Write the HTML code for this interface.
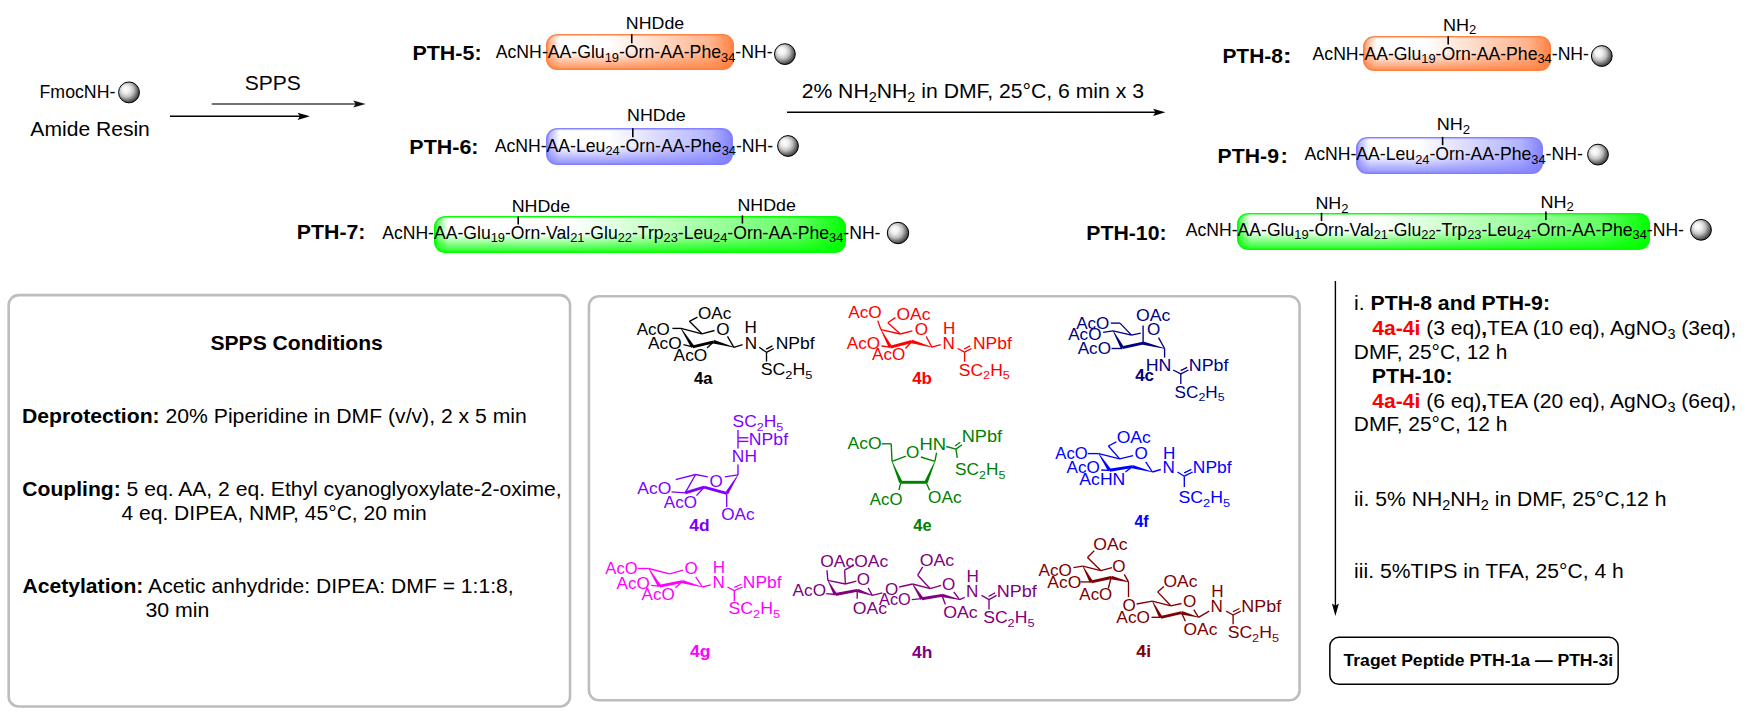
<!DOCTYPE html>
<html><head><meta charset="utf-8">
<style>
html,body{margin:0;padding:0;background:#fff;}
body{width:1758px;height:715px;position:relative;overflow:hidden;font-family:"Liberation Sans",sans-serif;}
.bx{position:absolute;border-radius:11px;}
.or{background:linear-gradient(to bottom,rgba(255,128,64,0) 0%,rgba(255,128,64,0) 48%,rgba(255,128,64,0.9) 100%),linear-gradient(to right,rgba(255,128,64,1) 0px,rgba(255,128,64,0.55) 4px,rgba(255,128,64,0) 14px,rgba(255,128,64,0) 33%,rgba(255,128,64,0.6) 88%,rgba(255,128,64,1) 100%),#fff;box-shadow:inset 0 0 1px 1.6px rgba(255,128,64,1);}
.bl{background:linear-gradient(to bottom,rgba(128,128,255,0) 0%,rgba(128,128,255,0) 48%,rgba(128,128,255,0.9) 100%),linear-gradient(to right,rgba(128,128,255,1) 0px,rgba(128,128,255,0.55) 4px,rgba(128,128,255,0) 14px,rgba(128,128,255,0) 33%,rgba(128,128,255,0.6) 88%,rgba(128,128,255,1) 100%),#fff;box-shadow:inset 0 0 1px 1.6px rgba(128,128,255,1);}
.gr{background:linear-gradient(to bottom,rgba(0,255,0,0) 0%,rgba(0,255,0,0) 48%,rgba(0,255,0,0.9) 100%),linear-gradient(to right,rgba(0,255,0,1) 0px,rgba(0,255,0,0.55) 4px,rgba(0,255,0,0) 14px,rgba(0,255,0,0) 33%,rgba(0,255,0,0.6) 88%,rgba(0,255,0,1) 100%),#fff;box-shadow:inset 0 0 1px 1.6px rgba(0,255,0,1);}
svg{position:absolute;left:0;top:0;}
text{white-space:pre;}
</style></head><body>
<div class="bx or" style="left:546px;top:34.3px;width:188px;height:36px"></div>
<div class="bx bl" style="left:546.2px;top:128.2px;width:186.5px;height:37.3px"></div>
<div class="bx gr" style="left:434.2px;top:216.4px;width:411.9px;height:36.9px"></div>
<div class="bx or" style="left:1363.3px;top:36.3px;width:187.5px;height:35.2px"></div>
<div class="bx bl" style="left:1356.2px;top:137.2px;width:186.8px;height:36.4px"></div>
<div class="bx gr" style="left:1237px;top:213.2px;width:412.5px;height:36.6px"></div>
<svg width="1758" height="715" viewBox="0 0 1758 715" font-family="Liberation Sans, sans-serif">
<defs>
<radialGradient id="ball" cx="0.42" cy="0.42" r="0.62" fx="0.33" fy="0.33">
<stop offset="0" stop-color="#ffffff"/><stop offset="0.28" stop-color="#f0f0f0"/><stop offset="0.55" stop-color="#c0c0c0"/><stop offset="0.72" stop-color="#858585"/><stop offset="0.9" stop-color="#4a4a4a"/><stop offset="1" stop-color="#2a2a2a"/>
</radialGradient>
</defs>
<text transform="translate(39.55,98.00) scale(1.0018,1)" font-size="17.7">FmocNH-</text>
<circle cx="129" cy="92.4" r="10.45" fill="url(#ball)" stroke="#000" stroke-width="1"/>
<text transform="translate(30.36,135.90) scale(1.0135,1)" font-size="20.8">Amide Resin</text>
<text transform="translate(244.74,90.40) scale(1.0017,1)" font-size="21">SPPS</text>
<g stroke="#444"><line x1="211.70" y1="104.00" x2="356.00" y2="104.00" stroke-width="1.5"/></g>
<path d="M365.6,104 L353.3,100.4 L355.6,104 L353.3,107.6 Z" fill="#111"/>
<g stroke="#000"><line x1="170.00" y1="116.30" x2="300.00" y2="116.30" stroke-width="1.4"/></g>
<path d="M309.9,116.3 L297.6,112.7 L299.9,116.3 L297.6,119.9 Z" fill="#000"/>
<text transform="translate(412.47,59.50) scale(1.0360,1)" font-size="20.7"><tspan font-weight="bold">PTH-5:</tspan></text>
<text transform="translate(495.77,58.40) scale(0.9982,1)" font-size="17.7">AcNH-AA-Glu<tspan dy="3.40" font-size="12.9">19</tspan><tspan dy="-3.40">-Orn-AA-Phe</tspan><tspan dy="3.40" font-size="12.9">34</tspan><tspan dy="-3.40">-NH-</tspan></text>
<text transform="translate(625.84,28.85) scale(1.0593,1)" font-size="16.8">NHDde</text>
<g stroke="#000"><line x1="631.75" y1="34.20" x2="631.75" y2="43.30" stroke-width="1.6"/></g>
<circle cx="784.9" cy="54.1" r="10.4" fill="url(#ball)" stroke="#000" stroke-width="1"/>
<text transform="translate(409.36,153.70) scale(1.0375,1)" font-size="20.7"><tspan font-weight="bold">PTH-6:</tspan></text>
<text transform="translate(494.67,152.00) scale(0.9976,1)" font-size="17.7">AcNH-AA-Leu<tspan dy="3.40" font-size="12.9">24</tspan><tspan dy="-3.40">-Orn-AA-Phe</tspan><tspan dy="3.40" font-size="12.9">34</tspan><tspan dy="-3.40">-NH-</tspan></text>
<text transform="translate(627.03,121.00) scale(1.0650,1)" font-size="16.8">NHDde</text>
<g stroke="#000"><line x1="632.80" y1="128.30" x2="632.80" y2="137.30" stroke-width="1.6"/></g>
<circle cx="788" cy="146" r="10.4" fill="url(#ball)" stroke="#000" stroke-width="1"/>
<text transform="translate(296.77,239.30) scale(1.0296,1)" font-size="20.7"><tspan font-weight="bold">PTH-7:</tspan></text>
<text transform="translate(382.17,238.80) scale(0.9951,1)" font-size="17.7">AcNH-AA-Glu<tspan dy="3.40" font-size="12.9">19</tspan><tspan dy="-3.40">-Orn-Val</tspan><tspan dy="3.40" font-size="12.9">21</tspan><tspan dy="-3.40">-Glu</tspan><tspan dy="3.40" font-size="12.9">22</tspan><tspan dy="-3.40">-Trp</tspan><tspan dy="3.40" font-size="12.9">23</tspan><tspan dy="-3.40">-Leu</tspan><tspan dy="3.40" font-size="12.9">24</tspan><tspan dy="-3.40">-Orn-AA-Phe</tspan><tspan dy="3.40" font-size="12.9">34</tspan><tspan dy="-3.40">-NH-</tspan></text>
<text transform="translate(511.74,212.30) scale(1.0612,1)" font-size="16.8">NHDde</text>
<g stroke="#000"><line x1="518.20" y1="216.40" x2="518.20" y2="224.50" stroke-width="1.6"/></g>
<text transform="translate(737.44,210.90) scale(1.0612,1)" font-size="16.8">NHDde</text>
<g stroke="#000"><line x1="742.40" y1="215.40" x2="742.40" y2="223.50" stroke-width="1.6"/></g>
<circle cx="898" cy="233" r="10.7" fill="url(#ball)" stroke="#000" stroke-width="1"/>
<text transform="translate(801.63,97.90) scale(1.0186,1)" font-size="20.8">2% NH<tspan dy="4.40" font-size="14.2">2</tspan><tspan dy="-4.40">NH</tspan><tspan dy="4.40" font-size="14.2">2</tspan><tspan dy="-4.40"> in DMF, 25°C, 6 min x 3</tspan></text>
<g stroke="#000"><line x1="787.00" y1="112.30" x2="1156.00" y2="112.30" stroke-width="1.4"/></g>
<path d="M1165.4,112.3 L1153.1,108.7 L1155.4,112.3 L1153.1,115.9 Z" fill="#000"/>
<text transform="translate(1222.40,63.20) scale(1.0124,1)" font-size="20.7"><tspan font-weight="bold">PTH-8</tspan></text>
<text transform="translate(1282.70,63.20) scale(1.3054,1)" font-size="20.7"><tspan font-weight="bold">:</tspan></text>
<text transform="translate(1312.57,59.80) scale(0.9968,1)" font-size="17.7">AcNH-AA-Glu<tspan dy="3.40" font-size="12.9">19</tspan><tspan dy="-3.40">-Orn-AA-Phe</tspan><tspan dy="3.40" font-size="12.9">34</tspan><tspan dy="-3.40">-NH-</tspan></text>
<text transform="translate(1442.92,30.70) scale(1.0771,1)" font-size="16.8">NH<tspan dy="3.70" font-size="12.2">2</tspan></text>
<g stroke="#000"><line x1="1448.20" y1="36.30" x2="1448.20" y2="44.60" stroke-width="1.6"/></g>
<circle cx="1601.8" cy="56" r="10.4" fill="url(#ball)" stroke="#000" stroke-width="1"/>
<text transform="translate(1217.58,163.40) scale(1.0268,1)" font-size="20.7"><tspan font-weight="bold">PTH-9</tspan></text>
<text transform="translate(1280.48,163.40) scale(1.0649,1)" font-size="20.7"><tspan font-weight="bold">:</tspan></text>
<text transform="translate(1304.47,160.30) scale(0.9961,1)" font-size="17.7">AcNH-AA-Leu<tspan dy="3.40" font-size="12.9">24</tspan><tspan dy="-3.40">-Orn-AA-Phe</tspan><tspan dy="3.40" font-size="12.9">34</tspan><tspan dy="-3.40">-NH-</tspan></text>
<text transform="translate(1436.72,129.80) scale(1.0771,1)" font-size="16.8">NH<tspan dy="3.70" font-size="12.2">2</tspan></text>
<g stroke="#000"><line x1="1442.60" y1="136.90" x2="1442.60" y2="145.20" stroke-width="1.6"/></g>
<circle cx="1598" cy="154.6" r="10.4" fill="url(#ball)" stroke="#000" stroke-width="1"/>
<text transform="translate(1086.28,240.00) scale(1.0263,1)" font-size="20.7"><tspan font-weight="bold">PTH-10:</tspan></text>
<text transform="translate(1185.77,235.50) scale(0.9947,1)" font-size="17.7">AcNH-AA-Glu<tspan dy="3.40" font-size="12.9">19</tspan><tspan dy="-3.40">-Orn-Val</tspan><tspan dy="3.40" font-size="12.9">21</tspan><tspan dy="-3.40">-Glu</tspan><tspan dy="3.40" font-size="12.9">22</tspan><tspan dy="-3.40">-Trp</tspan><tspan dy="3.40" font-size="12.9">23</tspan><tspan dy="-3.40">-Leu</tspan><tspan dy="3.40" font-size="12.9">24</tspan><tspan dy="-3.40">-Orn-AA-Phe</tspan><tspan dy="3.40" font-size="12.9">34</tspan><tspan dy="-3.40">-NH-</tspan></text>
<text transform="translate(1315.43,208.90) scale(1.0668,1)" font-size="16.8">NH<tspan dy="3.70" font-size="12.2">2</tspan></text>
<g stroke="#000"><line x1="1321.50" y1="212.80" x2="1321.50" y2="221.00" stroke-width="1.6"/></g>
<text transform="translate(1540.52,207.50) scale(1.0737,1)" font-size="16.8">NH<tspan dy="3.70" font-size="12.2">2</tspan></text>
<g stroke="#000"><line x1="1545.90" y1="211.50" x2="1545.90" y2="220.00" stroke-width="1.6"/></g>
<circle cx="1701" cy="229.8" r="10.4" fill="url(#ball)" stroke="#000" stroke-width="1"/>
<rect x="8.65" y="295.15" width="561.4" height="411.3" rx="10" fill="none" stroke="#bdbdbd" stroke-width="2.6"/>
<rect x="588.95" y="296.25" width="710.6" height="404" rx="10" fill="none" stroke="#bdbdbd" stroke-width="2.6"/>
<text transform="translate(210.39,350.40) scale(1.0202,1)" font-size="20.7"><tspan font-weight="bold">SPPS Conditions</tspan></text>
<text transform="translate(21.98,423.20) scale(1.0234,1)" font-size="20.7"><tspan font-weight="bold">Deprotection:</tspan> 20% Piperidine in DMF (v/v), 2 x 5 min</text>
<text transform="translate(22.33,496.40) scale(1.0197,1)" font-size="20.7"><tspan font-weight="bold">Coupling:</tspan> 5 eq. AA, 2 eq. Ethyl cyanoglyoxylate-2-oxime,</text>
<text transform="translate(121.42,519.70) scale(1.0180,1)" font-size="20.7">4 eq. DIPEA, NMP, 45°C, 20 min</text>
<text transform="translate(22.47,593.40) scale(1.0208,1)" font-size="20.7"><tspan font-weight="bold">Acetylation:</tspan> Acetic anhydride: DIPEA: DMF = 1:1:8,</text>
<text transform="translate(145.39,617.40) scale(1.0300,1)" font-size="20.7">30 min</text>
<text transform="translate(1354.08,310.00) scale(1.0265,1)" font-size="20.7">i. <tspan font-weight="bold">PTH-8 and PTH-9:</tspan></text>
<text transform="translate(1372.28,334.90) scale(1.0185,1)" font-size="20.7"><tspan font-weight="bold" fill="#ff0000">4a-4i</tspan> (3 eq)<tspan font-weight="bold">,</tspan>TEA (10 eq), AgNO<tspan dy="4.40" font-size="14.2">3</tspan><tspan dy="-4.40"> (3eq),</tspan></text>
<text transform="translate(1353.79,358.70) scale(1.0097,1)" font-size="20.7">DMF, 25°C, 12 h</text>
<text transform="translate(1371.87,383.00) scale(1.0329,1)" font-size="20.7"><tspan font-weight="bold">PTH-10:</tspan></text>
<text transform="translate(1372.28,407.90) scale(1.0185,1)" font-size="20.7"><tspan font-weight="bold" fill="#ff0000">4a-4i</tspan> (6 eq)<tspan font-weight="bold">,</tspan>TEA (20 eq), AgNO<tspan dy="4.40" font-size="14.2">3</tspan><tspan dy="-4.40"> (6eq),</tspan></text>
<text transform="translate(1353.79,431.20) scale(1.0097,1)" font-size="20.7">DMF, 25°C, 12 h</text>
<text transform="translate(1354.09,505.70) scale(1.0217,1)" font-size="20.7">ii. 5% NH<tspan dy="4.40" font-size="14.2">2</tspan><tspan dy="-4.40">NH</tspan><tspan dy="4.40" font-size="14.2">2</tspan><tspan dy="-4.40"> in DMF, 25°C,12 h</tspan></text>
<text transform="translate(1354.09,578.20) scale(1.0204,1)" font-size="20.7">iii. 5%TIPS in TFA, 25°C, 4 h</text>
<g stroke="#000"><line x1="1335.40" y1="281.00" x2="1335.40" y2="606.00" stroke-width="1.4"/></g>
<path d="M1335.4,616 L1331.9,603.6 L1335.4,605.8 L1338.9,603.6 Z" fill="#000"/>
<rect x="1329.85" y="637.3" width="288.3" height="47" rx="9" fill="none" stroke="#000" stroke-width="1.5"/>
<text transform="translate(1343.50,666.10) scale(1.0470,1)" font-size="16.8"><tspan font-weight="bold">Traget Peptide PTH-1a — PTH-3i</tspan></text>
<g fill="#000"><text transform="translate(697.99,318.60) scale(1.0500,1)" font-size="16.3">OAc</text><text transform="translate(636.67,334.60) scale(1.0457,1)" font-size="16.3">AcO</text><text transform="translate(647.97,348.70) scale(1.0619,1)" font-size="16.3">AcO</text><text transform="translate(673.57,360.60) scale(1.0651,1)" font-size="16.3">AcO</text><text transform="translate(716.19,334.60) scale(1.0500,1)" font-size="16.3">O</text><text transform="translate(744.60,333.40) scale(1.0500,1)" font-size="16.3">H</text><text transform="translate(744.80,348.60) scale(1.0500,1)" font-size="16.3">N</text><text transform="translate(775.66,348.60) scale(1.0738,1)" font-size="16.3">NPbf</text><text transform="translate(760.69,375.40) scale(1.0885,1)" font-size="16.3">SC<tspan dy="3.40" font-size="11.8">2</tspan><tspan dy="-3.40">H</tspan><tspan dy="3.40" font-size="11.8">5</tspan></text><text transform="translate(694.05,383.60) scale(0.9586,1)" font-size="17.3"><tspan font-weight="bold">4a</tspan></text></g><g stroke="#000" fill="#000" stroke-linecap="butt"><line x1="672.40" y1="328.40" x2="681.00" y2="328.40" stroke-width="1.35"/><line x1="681.00" y1="328.40" x2="701.90" y2="333.80" stroke-width="1.35"/><line x1="701.90" y1="333.80" x2="689.40" y2="321.30" stroke-width="1.35"/><line x1="689.40" y1="321.30" x2="697.50" y2="317.20" stroke-width="1.35"/><line x1="701.90" y1="333.80" x2="714.50" y2="330.50" stroke-width="1.35"/><line x1="727.50" y1="336.40" x2="733.80" y2="347.30" stroke-width="1.35"/><line x1="733.80" y1="347.30" x2="742.60" y2="344.70" stroke-width="1.35"/><polygon points="680.75,328.56 691.22,347.74 694.18,345.86 681.25,328.24" stroke="none"/><polygon points="693.04,348.21 714.04,343.21 713.36,340.39 692.36,345.39" stroke="none"/><polygon points="733.88,347.01 714.16,340.11 713.24,343.49 733.72,347.59" stroke="none"/><line x1="683.50" y1="344.70" x2="692.70" y2="346.80" stroke-width="1.35"/><line x1="713.70" y1="341.80" x2="707.00" y2="348.10" stroke-width="1.35"/><line x1="759.20" y1="347.30" x2="766.50" y2="352.30" stroke-width="1.35"/><line x1="766.50" y1="352.30" x2="773.80" y2="348.50" stroke-width="1.35"/><line x1="766.21" y1="349.07" x2="772.41" y2="345.84" stroke-width="1.35"/><line x1="766.50" y1="352.30" x2="766.50" y2="361.50" stroke-width="1.35"/></g>
<g fill="#ff0000"><text transform="translate(848.17,318.30) scale(1.0586,1)" font-size="16.3">AcO</text><text transform="translate(896.47,319.50) scale(1.0722,1)" font-size="16.3">OAc</text><text transform="translate(914.69,334.60) scale(1.0500,1)" font-size="16.3">O</text><text transform="translate(943.10,334.00) scale(1.0500,1)" font-size="16.3">H</text><text transform="translate(942.50,348.50) scale(1.0500,1)" font-size="16.3">N</text><text transform="translate(972.97,348.50) scale(1.0709,1)" font-size="16.3">NPbf</text><text transform="translate(846.87,348.50) scale(1.0500,1)" font-size="16.3">AcO</text><text transform="translate(872.07,360.40) scale(1.0500,1)" font-size="16.3">AcO</text><text transform="translate(958.81,375.50) scale(1.0733,1)" font-size="16.3">SC<tspan dy="3.40" font-size="11.8">2</tspan><tspan dy="-3.40">H</tspan><tspan dy="3.40" font-size="11.8">5</tspan></text><text transform="translate(912.14,383.70) scale(0.9835,1)" font-size="17.3"><tspan font-weight="bold">4b</tspan></text></g><g stroke="#ff0000" fill="#ff0000" stroke-linecap="butt"><line x1="877.80" y1="320.60" x2="880.90" y2="329.60" stroke-width="1.35"/><line x1="880.90" y1="329.60" x2="900.40" y2="334.00" stroke-width="1.35"/><line x1="900.40" y1="334.00" x2="887.80" y2="322.70" stroke-width="1.35"/><line x1="887.80" y1="322.70" x2="895.40" y2="317.60" stroke-width="1.35"/><line x1="900.40" y1="334.00" x2="912.40" y2="330.80" stroke-width="1.35"/><line x1="926.20" y1="336.50" x2="931.90" y2="347.20" stroke-width="1.35"/><line x1="931.90" y1="347.20" x2="940.70" y2="344.70" stroke-width="1.35"/><polygon points="880.64,329.74 888.86,348.03 891.94,346.37 881.16,329.46" stroke="none"/><polygon points="890.77,348.60 912.17,342.90 911.43,340.10 890.03,345.80" stroke="none"/><polygon points="931.98,346.91 912.28,339.82 911.32,343.18 931.82,347.49" stroke="none"/><line x1="881.50" y1="346.00" x2="890.40" y2="347.20" stroke-width="1.35"/><line x1="911.80" y1="341.50" x2="905.50" y2="348.50" stroke-width="1.35"/><line x1="957.70" y1="348.50" x2="964.60" y2="352.20" stroke-width="1.35"/><line x1="964.60" y1="352.20" x2="971.50" y2="348.50" stroke-width="1.35"/><line x1="964.22" y1="349.00" x2="970.08" y2="345.86" stroke-width="1.35"/><line x1="964.60" y1="352.20" x2="964.60" y2="361.70" stroke-width="1.35"/></g>
<g fill="#000080"><text transform="translate(1076.17,328.50) scale(1.0457,1)" font-size="16.3">AcO</text><text transform="translate(1068.17,340.30) scale(1.0500,1)" font-size="16.3">AcO</text><text transform="translate(1077.67,354.20) scale(1.0500,1)" font-size="16.3">AcO</text><text transform="translate(1136.06,320.80) scale(1.0853,1)" font-size="16.3">OAc</text><text transform="translate(1146.89,335.10) scale(1.0500,1)" font-size="16.3">O</text><text transform="translate(1145.74,371.10) scale(1.0921,1)" font-size="16.3">HN</text><text transform="translate(1188.84,371.10) scale(1.0938,1)" font-size="16.3">NPbf</text><text transform="translate(1135.14,380.80) scale(0.9797,1)" font-size="17.3"><tspan font-weight="bold">4c</tspan></text><text transform="translate(1174.62,397.70) scale(1.0500,1)" font-size="16.3">SC<tspan dy="3.40" font-size="11.8">2</tspan><tspan dy="-3.40">H</tspan><tspan dy="3.40" font-size="11.8">5</tspan></text></g><g stroke="#000080" fill="#000080" stroke-linecap="butt"><line x1="1110.80" y1="323.10" x2="1120.00" y2="323.10" stroke-width="1.35"/><line x1="1120.00" y1="323.10" x2="1131.50" y2="335.10" stroke-width="1.35"/><line x1="1113.10" y1="330.80" x2="1131.50" y2="335.10" stroke-width="1.35"/><line x1="1103.10" y1="332.30" x2="1113.10" y2="330.80" stroke-width="1.35"/><line x1="1131.50" y1="335.10" x2="1140.80" y2="333.10" stroke-width="1.35"/><polygon points="1112.84,330.94 1120.76,348.54 1123.84,346.86 1113.36,330.66" stroke="none"/><line x1="1111.50" y1="348.50" x2="1122.30" y2="348.50" stroke-width="1.35"/><polygon points="1122.61,349.12 1143.41,344.52 1142.79,341.68 1121.99,346.28" stroke="none"/><polygon points="1164.67,348.21 1143.53,341.40 1142.67,344.80 1164.53,348.79" stroke="none"/><line x1="1143.10" y1="343.10" x2="1143.10" y2="325.40" stroke-width="1.35"/><line x1="1158.50" y1="337.70" x2="1164.60" y2="348.50" stroke-width="1.35"/><line x1="1164.60" y1="348.50" x2="1164.60" y2="357.50" stroke-width="1.35"/><line x1="1173.10" y1="370.00" x2="1180.80" y2="373.80" stroke-width="1.35"/><line x1="1180.80" y1="373.80" x2="1188.50" y2="370.00" stroke-width="1.35"/><line x1="1180.63" y1="370.54" x2="1187.17" y2="367.31" stroke-width="1.35"/><line x1="1180.80" y1="373.80" x2="1180.80" y2="384.00" stroke-width="1.35"/></g>
<g fill="#8000ff"><text transform="translate(732.51,427.30) scale(1.0690,1)" font-size="16.3">SC<tspan dy="3.40" font-size="11.8">2</tspan><tspan dy="-3.40">H</tspan><tspan dy="3.40" font-size="11.8">5</tspan></text><text transform="translate(748.85,445.00) scale(1.0823,1)" font-size="16.3">NPbf</text><text transform="translate(731.87,462.00) scale(1.0682,1)" font-size="16.3">NH</text><text transform="translate(709.49,486.60) scale(1.0500,1)" font-size="16.3">O</text><text transform="translate(637.37,493.80) scale(1.0748,1)" font-size="16.3">AcO</text><text transform="translate(663.77,507.90) scale(1.0500,1)" font-size="16.3">AcO</text><text transform="translate(721.19,519.70) scale(1.0525,1)" font-size="16.3">OAc</text><text transform="translate(689.24,530.60) scale(1.0060,1)" font-size="17.3"><tspan font-weight="bold">4d</tspan></text></g><g stroke="#8000ff" fill="#8000ff" stroke-linecap="butt"><line x1="738.00" y1="430.00" x2="738.00" y2="448.50" stroke-width="1.35"/><line x1="738.00" y1="437.80" x2="748.40" y2="437.80" stroke-width="1.35"/><line x1="738.00" y1="441.40" x2="748.40" y2="441.40" stroke-width="1.35"/><line x1="738.00" y1="464.50" x2="738.00" y2="474.90" stroke-width="1.35"/><line x1="738.00" y1="474.90" x2="724.80" y2="476.80" stroke-width="1.35"/><line x1="707.80" y1="476.80" x2="695.60" y2="474.50" stroke-width="1.35"/><line x1="695.60" y1="474.50" x2="675.70" y2="479.60" stroke-width="1.35"/><line x1="695.60" y1="474.50" x2="685.20" y2="492.80" stroke-width="1.35"/><line x1="685.20" y1="492.80" x2="671.50" y2="491.90" stroke-width="1.35"/><polygon points="685.60,494.14 704.50,488.54 703.70,485.86 684.80,491.46" stroke="none"/><polygon points="703.73,488.55 726.33,494.75 727.07,492.05 704.47,485.85" stroke="none"/><line x1="704.10" y1="487.20" x2="696.50" y2="495.60" stroke-width="1.35"/><polygon points="737.74,474.74 725.21,492.49 728.19,494.31 738.26,475.06" stroke="none"/><line x1="726.70" y1="493.40" x2="726.70" y2="507.00" stroke-width="1.35"/></g>
<g fill="#008000"><text transform="translate(847.47,449.10) scale(1.0748,1)" font-size="16.3">AcO</text><text transform="translate(906.09,458.30) scale(1.0500,1)" font-size="16.3">O</text><text transform="translate(919.39,449.60) scale(1.1305,1)" font-size="16.3">HN</text><text transform="translate(961.71,442.10) scale(1.1167,1)" font-size="16.3">NPbf</text><text transform="translate(955.12,475.30) scale(1.0561,1)" font-size="16.3">SC<tspan dy="3.40" font-size="11.8">2</tspan><tspan dy="-3.40">H</tspan><tspan dy="3.40" font-size="11.8">5</tspan></text><text transform="translate(869.87,504.50) scale(1.0295,1)" font-size="16.3">AcO</text><text transform="translate(927.98,503.30) scale(1.0591,1)" font-size="16.3">OAc</text><text transform="translate(913.35,531.20) scale(0.9462,1)" font-size="17.3"><tspan font-weight="bold">4e</tspan></text></g><g stroke="#008000" fill="#008000" stroke-linecap="butt"><line x1="881.60" y1="443.80" x2="891.20" y2="443.80" stroke-width="1.35"/><line x1="891.20" y1="443.80" x2="892.00" y2="461.30" stroke-width="1.35"/><line x1="892.00" y1="461.30" x2="906.00" y2="456.10" stroke-width="1.35"/><line x1="920.90" y1="457.00" x2="934.90" y2="461.30" stroke-width="1.35"/><line x1="934.90" y1="461.30" x2="936.60" y2="452.60" stroke-width="1.35"/><polygon points="891.72,461.42 899.19,482.98 902.41,481.62 892.28,461.18" stroke="none"/><polygon points="900.80,483.75 926.10,483.75 926.10,480.85 900.80,480.85" stroke="none"/><polygon points="934.62,461.18 924.49,481.62 927.71,482.98 935.18,461.42" stroke="none"/><line x1="900.80" y1="482.30" x2="899.00" y2="490.20" stroke-width="1.35"/><line x1="926.10" y1="482.30" x2="929.60" y2="490.20" stroke-width="1.35"/><line x1="946.20" y1="446.50" x2="955.90" y2="449.10" stroke-width="1.35"/><line x1="955.90" y1="449.10" x2="962.00" y2="444.70" stroke-width="1.35"/><line x1="955.06" y1="446.01" x2="960.24" y2="442.27" stroke-width="1.35"/><line x1="955.90" y1="449.10" x2="957.30" y2="457.80" stroke-width="1.35"/></g>
<g fill="#0000ff"><text transform="translate(1116.67,442.70) scale(1.0787,1)" font-size="16.3">OAc</text><text transform="translate(1055.37,458.90) scale(1.0198,1)" font-size="16.3">AcO</text><text transform="translate(1134.49,458.90) scale(1.0500,1)" font-size="16.3">O</text><text transform="translate(1163.10,458.60) scale(1.0500,1)" font-size="16.3">H</text><text transform="translate(1162.40,473.40) scale(1.0500,1)" font-size="16.3">N</text><text transform="translate(1192.87,473.40) scale(1.0680,1)" font-size="16.3">NPbf</text><text transform="translate(1066.47,473.40) scale(1.0500,1)" font-size="16.3">AcO</text><text transform="translate(1079.37,484.60) scale(1.0800,1)" font-size="16.3">AcHN</text><text transform="translate(1178.39,503.10) scale(1.0885,1)" font-size="16.3">SC<tspan dy="3.40" font-size="11.8">2</tspan><tspan dy="-3.40">H</tspan><tspan dy="3.40" font-size="11.8">5</tspan></text><text transform="translate(1134.56,526.50) scale(0.9172,1)" font-size="17.3"><tspan font-weight="bold">4f</tspan></text></g><g stroke="#0000ff" fill="#0000ff" stroke-linecap="butt"><line x1="1087.80" y1="453.60" x2="1098.70" y2="453.60" stroke-width="1.35"/><line x1="1098.70" y1="453.60" x2="1119.70" y2="458.90" stroke-width="1.35"/><line x1="1119.70" y1="458.90" x2="1108.40" y2="446.00" stroke-width="1.35"/><line x1="1108.40" y1="446.00" x2="1116.30" y2="441.80" stroke-width="1.35"/><line x1="1119.70" y1="458.90" x2="1133.10" y2="455.60" stroke-width="1.35"/><line x1="1145.70" y1="461.90" x2="1152.40" y2="472.00" stroke-width="1.35"/><line x1="1152.40" y1="472.00" x2="1160.80" y2="469.50" stroke-width="1.35"/><polygon points="1098.45,453.76 1108.13,471.26 1111.07,469.34 1098.95,453.44" stroke="none"/><polygon points="1109.83,471.73 1132.43,468.03 1131.97,465.17 1109.37,468.87" stroke="none"/><polygon points="1152.48,471.71 1132.65,464.91 1131.75,468.29 1152.32,472.29" stroke="none"/><line x1="1101.20" y1="470.00" x2="1109.60" y2="470.30" stroke-width="1.35"/><line x1="1132.20" y1="466.60" x2="1125.50" y2="472.00" stroke-width="1.35"/><line x1="1177.50" y1="472.00" x2="1184.30" y2="476.20" stroke-width="1.35"/><line x1="1184.30" y1="476.20" x2="1192.70" y2="472.00" stroke-width="1.35"/><line x1="1184.22" y1="472.89" x2="1191.36" y2="469.32" stroke-width="1.35"/><line x1="1184.30" y1="476.20" x2="1184.30" y2="487.10" stroke-width="1.35"/></g>
<g fill="#ff00ff"><text transform="translate(605.37,574.40) scale(1.0198,1)" font-size="16.3">AcO</text><text transform="translate(684.49,573.90) scale(1.0500,1)" font-size="16.3">O</text><text transform="translate(712.70,573.20) scale(1.0500,1)" font-size="16.3">H</text><text transform="translate(712.40,588.30) scale(1.0500,1)" font-size="16.3">N</text><text transform="translate(742.87,588.30) scale(1.0680,1)" font-size="16.3">NPbf</text><text transform="translate(616.47,588.60) scale(1.0500,1)" font-size="16.3">AcO</text><text transform="translate(641.57,600.00) scale(1.0457,1)" font-size="16.3">AcO</text><text transform="translate(728.39,614.10) scale(1.0885,1)" font-size="16.3">SC<tspan dy="3.40" font-size="11.8">2</tspan><tspan dy="-3.40">H</tspan><tspan dy="3.40" font-size="11.8">5</tspan></text><text transform="translate(690.03,656.60) scale(1.0176,1)" font-size="17.3"><tspan font-weight="bold">4g</tspan></text></g><g stroke="#ff00ff" fill="#ff00ff" stroke-linecap="butt"><line x1="637.80" y1="568.50" x2="648.70" y2="568.50" stroke-width="1.35"/><line x1="648.70" y1="568.50" x2="669.70" y2="573.90" stroke-width="1.35"/><line x1="669.70" y1="573.90" x2="683.10" y2="570.20" stroke-width="1.35"/><line x1="695.70" y1="576.90" x2="702.40" y2="587.00" stroke-width="1.35"/><line x1="702.40" y1="587.00" x2="710.80" y2="584.80" stroke-width="1.35"/><polygon points="648.44,568.66 658.11,587.02 661.09,585.18 648.96,568.34" stroke="none"/><polygon points="659.88,587.52 682.48,583.02 681.92,580.18 659.32,584.68" stroke="none"/><polygon points="702.48,586.71 682.65,579.91 681.75,583.29 702.32,587.29" stroke="none"/><line x1="651.20" y1="585.30" x2="659.60" y2="586.10" stroke-width="1.35"/><line x1="682.20" y1="581.60" x2="675.50" y2="587.80" stroke-width="1.35"/><line x1="727.50" y1="587.00" x2="734.30" y2="590.60" stroke-width="1.35"/><line x1="734.30" y1="590.60" x2="742.60" y2="587.00" stroke-width="1.35"/><line x1="734.35" y1="587.31" x2="741.41" y2="584.25" stroke-width="1.35"/><line x1="734.30" y1="590.60" x2="734.30" y2="601.20" stroke-width="1.35"/></g>
<g fill="#800080"><text transform="translate(820.27,566.50) scale(1.0724,1)" font-size="16.3">OAcOAc</text><text transform="translate(856.69,584.50) scale(1.0500,1)" font-size="16.3">O</text><text transform="translate(792.57,596.20) scale(1.0586,1)" font-size="16.3">AcO</text><text transform="translate(884.89,595.40) scale(1.0500,1)" font-size="16.3">O</text><text transform="translate(852.66,613.50) scale(1.0853,1)" font-size="16.3">OAc</text><text transform="translate(878.97,605.40) scale(1.0068,1)" font-size="16.3">AcO</text><text transform="translate(919.66,566.00) scale(1.0918,1)" font-size="16.3">OAc</text><text transform="translate(942.09,589.50) scale(1.0500,1)" font-size="16.3">O</text><text transform="translate(966.60,582.30) scale(1.0500,1)" font-size="16.3">H</text><text transform="translate(966.10,597.40) scale(1.0500,1)" font-size="16.3">N</text><text transform="translate(996.82,597.40) scale(1.1053,1)" font-size="16.3">NPbf</text><text transform="translate(943.16,617.50) scale(1.0918,1)" font-size="16.3">OAc</text><text transform="translate(983.20,623.10) scale(1.0798,1)" font-size="16.3">SC<tspan dy="3.40" font-size="11.8">2</tspan><tspan dy="-3.40">H</tspan><tspan dy="3.40" font-size="11.8">5</tspan></text><text transform="translate(912.04,657.50) scale(1.0077,1)" font-size="17.3"><tspan font-weight="bold">4h</tspan></text></g><g stroke="#800080" fill="#800080" stroke-linecap="butt"><line x1="827.00" y1="570.20" x2="827.80" y2="580.30" stroke-width="1.35"/><line x1="827.80" y1="580.30" x2="845.40" y2="584.00" stroke-width="1.35"/><line x1="845.40" y1="584.00" x2="844.60" y2="570.20" stroke-width="1.35"/><line x1="844.60" y1="570.20" x2="853.80" y2="565.10" stroke-width="1.35"/><line x1="845.40" y1="584.00" x2="856.40" y2="581.10" stroke-width="1.35"/><line x1="868.10" y1="587.80" x2="872.30" y2="595.40" stroke-width="1.35"/><line x1="872.30" y1="595.40" x2="882.40" y2="592.90" stroke-width="1.35"/><polygon points="827.54,580.44 833.86,595.33 836.94,593.67 828.06,580.16" stroke="none"/><polygon points="835.67,595.92 857.47,591.72 856.93,588.88 835.13,593.08" stroke="none"/><polygon points="872.40,595.12 857.76,588.64 856.64,591.96 872.20,595.68" stroke="none"/><line x1="835.40" y1="594.50" x2="826.10" y2="593.70" stroke-width="1.35"/><line x1="857.20" y1="590.30" x2="857.20" y2="598.70" stroke-width="1.35"/><line x1="899.20" y1="587.00" x2="912.60" y2="584.00" stroke-width="1.35"/><line x1="912.60" y1="584.00" x2="930.30" y2="588.70" stroke-width="1.35"/><line x1="930.30" y1="588.70" x2="917.70" y2="575.20" stroke-width="1.35"/><line x1="917.70" y1="575.20" x2="922.70" y2="566.80" stroke-width="1.35"/><line x1="930.30" y1="588.70" x2="941.20" y2="585.30" stroke-width="1.35"/><line x1="953.80" y1="592.00" x2="959.60" y2="599.60" stroke-width="1.35"/><line x1="959.60" y1="599.60" x2="964.70" y2="597.40" stroke-width="1.35"/><polygon points="912.35,584.16 920.42,599.64 923.38,597.76 912.85,583.84" stroke="none"/><polygon points="922.13,600.13 942.23,596.83 941.77,593.97 921.67,597.27" stroke="none"/><polygon points="959.67,599.31 942.41,593.70 941.59,597.10 959.53,599.89" stroke="none"/><line x1="921.90" y1="598.70" x2="911.80" y2="599.60" stroke-width="1.35"/><line x1="942.00" y1="595.40" x2="945.40" y2="604.60" stroke-width="1.35"/><line x1="981.50" y1="595.40" x2="989.00" y2="599.60" stroke-width="1.35"/><line x1="989.00" y1="599.60" x2="996.60" y2="595.40" stroke-width="1.35"/><line x1="988.69" y1="596.34" x2="995.15" y2="592.77" stroke-width="1.35"/><line x1="989.00" y1="599.60" x2="989.00" y2="609.60" stroke-width="1.35"/></g>
<g fill="#800000"><text transform="translate(1093.36,550.40) scale(1.0820,1)" font-size="16.3">OAc</text><text transform="translate(1038.47,575.70) scale(1.0554,1)" font-size="16.3">AcO</text><text transform="translate(1047.37,587.50) scale(1.0748,1)" font-size="16.3">AcO</text><text transform="translate(1112.19,571.90) scale(1.0500,1)" font-size="16.3">O</text><text transform="translate(1079.37,600.20) scale(1.0392,1)" font-size="16.3">AcO</text><text transform="translate(1122.59,610.80) scale(1.0500,1)" font-size="16.3">O</text><text transform="translate(1116.37,623.40) scale(1.0619,1)" font-size="16.3">AcO</text><text transform="translate(1136.33,656.80) scale(1.0200,1)" font-size="17.3"><tspan font-weight="bold">4i</tspan></text><text transform="translate(1163.47,586.50) scale(1.0689,1)" font-size="16.3">OAc</text><text transform="translate(1182.99,606.50) scale(1.0500,1)" font-size="16.3">O</text><text transform="translate(1211.20,596.80) scale(1.0500,1)" font-size="16.3">H</text><text transform="translate(1210.60,611.60) scale(1.0500,1)" font-size="16.3">N</text><text transform="translate(1241.33,611.60) scale(1.0995,1)" font-size="16.3">NPbf</text><text transform="translate(1183.47,635.00) scale(1.0689,1)" font-size="16.3">OAc</text><text transform="translate(1227.70,638.10) scale(1.0798,1)" font-size="16.3">SC<tspan dy="3.40" font-size="11.8">2</tspan><tspan dy="-3.40">H</tspan><tspan dy="3.40" font-size="11.8">5</tspan></text></g><g stroke="#800000" fill="#800000" stroke-linecap="butt"><line x1="1073.40" y1="567.70" x2="1082.80" y2="566.20" stroke-width="1.35"/><line x1="1082.80" y1="566.20" x2="1100.80" y2="570.60" stroke-width="1.35"/><line x1="1100.80" y1="570.60" x2="1087.50" y2="557.40" stroke-width="1.35"/><line x1="1087.50" y1="557.40" x2="1094.20" y2="550.80" stroke-width="1.35"/><line x1="1100.80" y1="570.60" x2="1112.10" y2="567.70" stroke-width="1.35"/><line x1="1124.30" y1="574.30" x2="1128.50" y2="581.90" stroke-width="1.35"/><polygon points="1082.54,566.34 1089.76,582.73 1092.84,581.07 1083.06,566.06" stroke="none"/><polygon points="1091.61,583.32 1111.41,578.92 1110.79,576.08 1090.99,580.48" stroke="none"/><polygon points="1128.57,581.61 1111.53,575.80 1110.67,579.20 1128.43,582.19" stroke="none"/><line x1="1080.50" y1="581.90" x2="1091.30" y2="581.90" stroke-width="1.35"/><line x1="1111.10" y1="577.50" x2="1108.30" y2="588.50" stroke-width="1.35"/><line x1="1128.50" y1="581.90" x2="1128.50" y2="597.00" stroke-width="1.35"/><line x1="1136.60" y1="604.00" x2="1152.30" y2="601.20" stroke-width="1.35"/><line x1="1152.30" y1="601.20" x2="1170.80" y2="605.80" stroke-width="1.35"/><line x1="1170.80" y1="605.80" x2="1157.70" y2="591.90" stroke-width="1.35"/><line x1="1157.70" y1="591.90" x2="1163.80" y2="586.50" stroke-width="1.35"/><line x1="1170.80" y1="605.80" x2="1181.50" y2="603.50" stroke-width="1.35"/><line x1="1193.80" y1="609.60" x2="1198.50" y2="617.30" stroke-width="1.35"/><line x1="1198.50" y1="617.30" x2="1209.20" y2="611.20" stroke-width="1.35"/><polygon points="1152.03,601.34 1159.25,618.12 1162.35,616.48 1152.57,601.06" stroke="none"/><polygon points="1161.11,618.72 1181.81,614.12 1181.19,611.28 1160.49,615.88" stroke="none"/><polygon points="1198.58,617.01 1181.96,611.01 1181.04,614.39 1198.42,617.59" stroke="none"/><line x1="1151.50" y1="617.30" x2="1160.80" y2="617.30" stroke-width="1.35"/><line x1="1181.50" y1="612.70" x2="1185.40" y2="621.20" stroke-width="1.35"/><line x1="1226.20" y1="611.20" x2="1233.10" y2="615.00" stroke-width="1.35"/><line x1="1233.10" y1="615.00" x2="1240.80" y2="611.20" stroke-width="1.35"/><line x1="1232.93" y1="611.74" x2="1239.47" y2="608.51" stroke-width="1.35"/><line x1="1233.10" y1="615.00" x2="1233.10" y2="624.20" stroke-width="1.35"/></g>
</svg>
</body></html>
